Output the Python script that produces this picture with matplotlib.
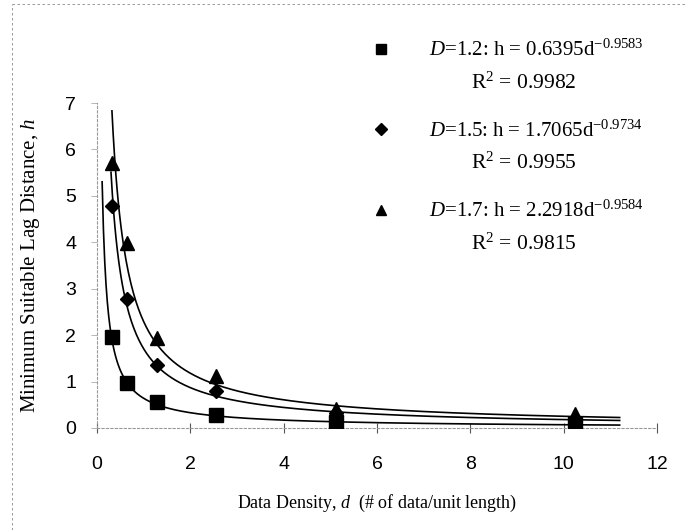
import matplotlib
matplotlib.use('Agg')
import matplotlib.pyplot as plt
from matplotlib.lines import Line2D
import numpy as np

plt.rcParams['mathtext.fontset'] = 'custom'
plt.rcParams['mathtext.rm'] = 'Liberation Serif'
plt.rcParams['mathtext.it'] = 'Liberation Serif:italic'

# data density (# of data / unit length)
d = [0.32, 0.64, 1.28, 2.56, 5.12, 10.24]
# minimum suitable lag distance for each fractal dimension D
h_12 = [1.95, 0.96, 0.55, 0.28, 0.14, 0.08]
h_15 = [4.78, 2.78, 1.35, 0.80, 0.33, 0.20]
h_17 = [5.70, 3.98, 1.93, 1.12, 0.42, 0.31]

D_vals = ['1.2', '1.5', '1.7']
coef = [0.6395, 1.7065, 2.2918]
expo = [-0.9583, -0.9734, -0.9584]
r2 = ['0.9982', '0.9955', '0.9815']
curve_start = [0.11, 0.30, 0.32]
curve_end = 11.2

series = [h_12, h_15, h_17]
markers = ['s', 'D', '^']
msizes = [9.5, 7.5, 9.5]

fig = plt.figure(figsize=(6.85, 5.3), dpi=100)
ax = fig.add_axes([97/685, 1-428/530, 560/685, 325/530])

handles = []
labels = []
for i in range(3):
    xs = np.linspace(curve_start[i], curve_end, 400)
    ax.plot(xs, coef[i]*xs**expo[i], color='black', lw=1.2, zorder=2)
    ax.plot(d, series[i], linestyle='none', marker=markers[i],
            ms=msizes[i], color='black', zorder=3)
    handles.append(Line2D([], [], linestyle='none', marker=markers[i],
                          ms=msizes[i]*0.75, color='black'))
    labels.append('$\\mathit{D}$=%s: h = %sd$^{%s}$'
                  % (D_vals[i], f'{coef[i]:.4f}', f'{expo[i]:.4f}'))

ax.set_xlim(0, 12)
ax.set_ylim(0, 7)
ax.set_xticks(range(0, 13, 2))
ax.set_yticks(range(0, 8))

for s in ['top', 'right']:
    ax.spines[s].set_visible(False)
for s in ['left', 'bottom']:
    ax.spines[s].set_linestyle((0, (2, 2)))
    ax.spines[s].set_color('#999999')
    ax.spines[s].set_linewidth(0.8)

ax.tick_params(axis='x', direction='inout', length=7, width=0.8, color='#555555',
               pad=17, labelsize=14)
ax.tick_params(axis='y', direction='out', length=4, width=0.6, color='#aaaaaa',
               pad=11, labelsize=14)
for t in ax.get_xticklabels() + ax.get_yticklabels():
    t.set_fontfamily('Liberation Sans')

ax.set_xlabel('Data Density, $\\mathit{d}$  (# of data/unit length)',
              fontfamily='Liberation Serif', fontsize=13, labelpad=14)
ax.set_ylabel('Minimum Suitable Lag Distance, $\\mathit{h}$',
              fontfamily='Liberation Serif', fontsize=15, labelpad=17)

leg = fig.legend(handles, labels, loc='upper left',
                 bbox_to_anchor=(350/685, 1-21/530), frameon=False,
                 prop={'family': 'Liberation Serif', 'size': 15},
                 handletextpad=1.7, labelspacing=2.85, handlelength=1.2)

# R^2 line centred under each equation
fig.canvas.draw()
for t, r in zip(leg.get_texts(), r2):
    bb = t.get_window_extent()
    fig.text((bb.x0 + bb.x1) / 2 / 685 - 0.018, (bb.y0 - 22) / 530,
             'R$^2$ = ' + r, ha='center', va='center',
             fontfamily='Liberation Serif', fontsize=15.5)

# faint dashed border of the original figure frame
fig.add_artist(Line2D([0.018, 0.018], [0.0, 0.993], color='#888888',
                      lw=0.6, ls=(0, (3, 3)), transform=fig.transFigure))
fig.add_artist(Line2D([0.018, 1.0], [0.993, 0.993], color='#888888',
                      lw=0.6, ls=(0, (3, 3)), transform=fig.transFigure))

fig.savefig('out.png', dpi=100)
